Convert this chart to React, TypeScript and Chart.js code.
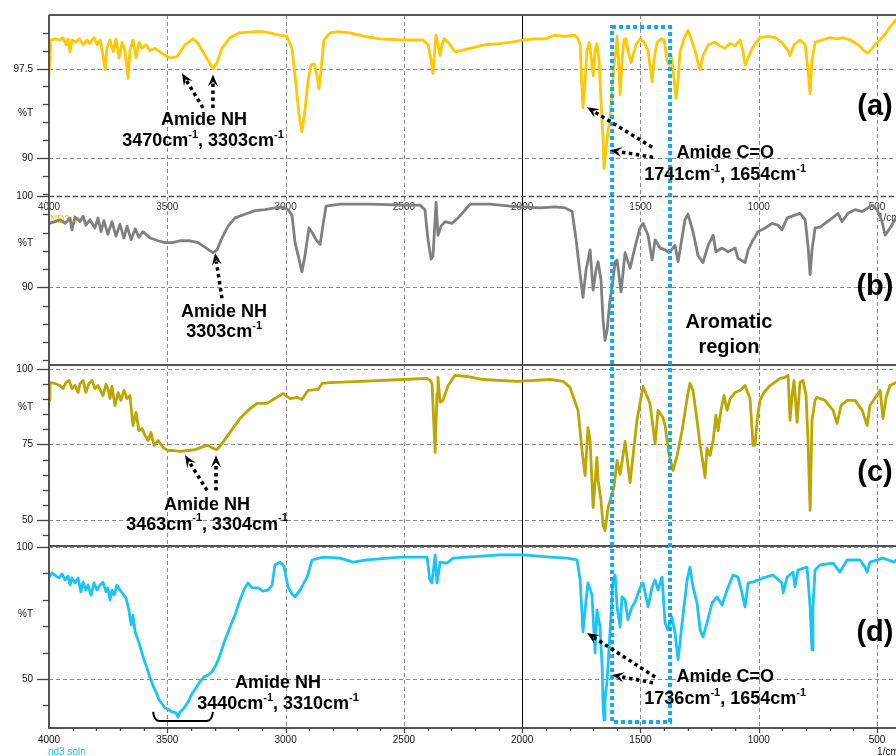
import { useEffect, useRef } from "react";
import { Chart, registerables } from "chart.js";

Chart.register(...registerables);

const FONT = '"Liberation Sans", Arial, Helvetica, sans-serif';

// ---- FTIR spectra: [wavenumber (cm-1), transmittance (%T)] ----
const specA: [number, number][] = [
  [4000, 96.9], [3992, 99.9], [3975, 100.0], [3954, 99.9], [3941, 100.1], [3928, 99.5], [3920, 100.0], [3911, 98.9], [3903, 99.9], [3886, 99.7],
  [3873, 100.0], [3856, 99.5], [3839, 99.9], [3827, 99.6], [3810, 100.1], [3797, 99.5], [3784, 99.9], [3772, 98.6], [3763, 97.4], [3755, 99.2],
  [3742, 99.9], [3729, 98.9], [3717, 100.0], [3704, 98.4], [3691, 99.7], [3679, 99.0], [3666, 96.7], [3658, 99.0], [3645, 99.9], [3632, 98.4],
  [3620, 99.7], [3607, 99.2], [3590, 99.5], [3573, 99.0], [3552, 99.2], [3531, 98.9], [3510, 98.6], [3489, 98.4], [3459, 98.5], [3425, 99.5],
  [3391, 100.0], [3370, 99.6], [3349, 98.9], [3328, 98.2], [3307, 97.5], [3290, 98.0], [3269, 99.2], [3235, 100.1], [3193, 100.5], [3129, 100.6],
  [3100, 100.6], [3066, 100.5], [3024, 100.3], [2994, 100.2], [2973, 99.2], [2956, 96.1], [2943, 93.6], [2931, 92.2], [2918, 94.0], [2905, 96.5],
  [2893, 97.8], [2880, 97.9], [2867, 96.9], [2859, 95.8], [2850, 97.4], [2838, 99.9], [2812, 100.5], [2778, 100.6], [2728, 100.5], [2664, 100.2],
  [2601, 100.0], [2516, 99.9], [2419, 99.9], [2398, 99.5], [2385, 98.2], [2377, 97.1], [2368, 99.5], [2364, 100.3], [2356, 99.5], [2347, 98.6],
  [2339, 99.5], [2330, 100.0], [2313, 99.7], [2284, 98.9], [2220, 99.2], [2157, 99.5], [2094, 99.6], [2051, 99.7], [1996, 99.9], [1946, 100.0],
  [1903, 100.0], [1861, 100.3], [1819, 100.2], [1777, 100.3], [1764, 100.0], [1755, 99.5], [1747, 95.7], [1743, 94.2], [1734, 96.5], [1726, 99.0],
  [1717, 99.7], [1709, 98.6], [1700, 96.9], [1692, 99.0], [1684, 99.6], [1675, 98.2], [1667, 94.8], [1658, 91.5], [1654, 89.1], [1646, 90.6],
  [1637, 92.3], [1629, 93.3], [1620, 95.7], [1612, 97.8], [1603, 99.2], [1599, 100.2], [1591, 97.4], [1586, 95.3], [1578, 98.2], [1570, 99.9],
  [1561, 100.0], [1553, 99.0], [1540, 98.0], [1532, 98.6], [1519, 99.5], [1502, 100.0], [1485, 99.7], [1468, 99.0], [1460, 97.8], [1451, 96.4],
  [1443, 98.2], [1430, 99.7], [1413, 100.0], [1400, 99.9], [1388, 98.2], [1379, 97.8], [1371, 98.6], [1362, 97.4], [1350, 95.0], [1341, 96.5],
  [1333, 98.9], [1316, 100.0], [1299, 100.7], [1286, 100.0], [1269, 99.0], [1257, 98.0], [1248, 97.4], [1236, 98.6], [1214, 99.5], [1185, 99.7],
  [1164, 99.4], [1143, 99.2], [1121, 99.6], [1100, 99.4], [1079, 99.9], [1067, 99.0], [1058, 97.8], [1045, 98.4], [1028, 99.2], [995, 100.1],
  [961, 100.2], [931, 100.1], [902, 99.7], [876, 99.0], [868, 98.6], [851, 99.5], [826, 99.9], [804, 99.5], [792, 97.4], [783, 95.4],
  [775, 98.2], [762, 99.7], [733, 99.9], [699, 100.1], [669, 100.0], [644, 100.1], [614, 99.9], [580, 99.5], [555, 99.0], [538, 98.8],
  [521, 99.2], [504, 99.6], [487, 99.9], [462, 100.5], [445, 101.0], [432, 101.3], [420, 101.6],
];

const specB: [number, number][] = [
  [4000, 97.0], [3975, 97.2], [3954, 97.4], [3932, 97.0], [3911, 97.6], [3903, 96.3], [3890, 97.7], [3869, 97.2], [3856, 97.8], [3844, 96.8],
  [3827, 97.4], [3806, 96.5], [3793, 97.6], [3780, 96.1], [3768, 97.3], [3751, 95.8], [3734, 97.2], [3717, 95.6], [3700, 96.9], [3683, 95.4],
  [3670, 96.7], [3653, 95.2], [3636, 96.4], [3620, 95.5], [3603, 96.1], [3573, 95.4], [3539, 95.1], [3510, 94.9], [3480, 94.9], [3446, 95.1],
  [3404, 95.1], [3370, 94.9], [3341, 94.4], [3319, 94.0], [3307, 93.8], [3290, 94.1], [3269, 95.4], [3243, 96.7], [3214, 97.6], [3172, 98.0],
  [3129, 98.4], [3087, 98.5], [3045, 98.7], [3015, 98.8], [2990, 98.5], [2973, 97.9], [2960, 94.9], [2947, 93.5], [2931, 91.7], [2918, 93.5],
  [2901, 96.5], [2888, 96.0], [2871, 95.2], [2854, 94.7], [2842, 96.8], [2829, 98.9], [2770, 99.1], [2643, 99.1], [2495, 99.0], [2432, 99.0],
  [2411, 98.5], [2398, 95.2], [2385, 93.1], [2377, 93.4], [2364, 99.3], [2356, 95.7], [2343, 96.7], [2326, 97.2], [2297, 97.0], [2271, 97.6],
  [2220, 99.1], [2136, 99.1], [2051, 98.9], [1996, 98.8], [1925, 98.7], [1861, 98.8], [1819, 98.7], [1789, 98.3], [1772, 95.2], [1755, 91.4],
  [1743, 88.9], [1730, 91.9], [1713, 94.1], [1700, 89.7], [1688, 91.9], [1679, 92.8], [1667, 90.8], [1658, 86.4], [1650, 84.2], [1641, 85.3],
  [1629, 88.6], [1620, 90.0], [1607, 92.8], [1599, 93.0], [1582, 89.5], [1565, 93.8], [1544, 92.1], [1523, 94.4], [1502, 96.5], [1489, 97.0],
  [1468, 95.7], [1451, 93.0], [1438, 95.2], [1417, 94.3], [1396, 94.1], [1379, 93.8], [1354, 94.6], [1341, 92.8], [1312, 97.4], [1299, 98.0],
  [1278, 96.1], [1257, 93.5], [1236, 92.7], [1214, 94.6], [1193, 95.7], [1181, 93.9], [1155, 94.3], [1130, 93.9], [1100, 94.3], [1088, 93.2],
  [1058, 92.7], [1045, 94.1], [1028, 95.0], [1003, 96.1], [973, 96.5], [944, 97.0], [918, 96.8], [902, 96.3], [880, 97.6], [847, 97.9],
  [826, 98.1], [804, 97.4], [792, 94.6], [783, 91.4], [775, 94.1], [762, 96.5], [741, 96.6], [699, 97.4], [665, 98.1], [648, 97.2],
  [623, 98.1], [593, 98.5], [563, 98.3], [538, 98.7], [521, 99.0], [500, 98.5], [479, 97.2], [466, 95.7], [445, 96.5], [420, 97.6],
];

const specC: [number, number][] = [
  [4000, 89.6], [3996, 95.5], [3975, 95.2], [3954, 94.5], [3941, 93.5], [3928, 95.5], [3915, 96.2], [3903, 93.5], [3890, 94.5], [3877, 92.2],
  [3869, 95.2], [3856, 96.2], [3844, 92.2], [3831, 95.2], [3818, 96.2], [3806, 93.5], [3793, 94.5], [3772, 91.2], [3759, 94.9], [3751, 93.5],
  [3742, 90.2], [3734, 94.2], [3721, 87.9], [3708, 92.2], [3696, 89.6], [3683, 92.9], [3670, 90.2], [3658, 91.2], [3645, 81.3], [3632, 85.6],
  [3620, 79.6], [3607, 80.3], [3594, 78.0], [3582, 76.3], [3569, 79.0], [3556, 74.7], [3539, 76.3], [3518, 74.0], [3497, 73.0], [3472, 73.0],
  [3446, 72.7], [3412, 73.0], [3383, 73.3], [3349, 74.3], [3328, 74.7], [3307, 73.7], [3290, 73.3], [3269, 75.3], [3235, 79.0], [3193, 83.6],
  [3150, 86.9], [3121, 88.6], [3079, 88.6], [3045, 90.2], [3011, 91.9], [2981, 90.2], [2952, 90.6], [2931, 89.9], [2905, 92.9], [2863, 93.2],
  [2846, 95.2], [2812, 95.5], [2685, 95.9], [2504, 96.5], [2402, 96.9], [2390, 96.2], [2381, 95.2], [2368, 72.4], [2360, 91.9], [2356, 97.2],
  [2347, 88.9], [2335, 89.6], [2313, 94.5], [2284, 97.9], [2233, 97.5], [2165, 96.5], [2022, 95.9], [1882, 96.5], [1827, 95.9], [1798, 93.9],
  [1764, 86.3], [1747, 73.0], [1734, 64.7], [1722, 80.6], [1713, 76.3], [1700, 54.1], [1684, 70.7], [1679, 63.1], [1667, 56.5], [1658, 48.2],
  [1650, 46.5], [1637, 54.1], [1620, 58.8], [1612, 60.8], [1599, 69.7], [1586, 65.1], [1565, 76.0], [1544, 62.4], [1515, 83.0], [1489, 94.2],
  [1460, 88.6], [1438, 75.3], [1426, 86.3], [1405, 83.9], [1396, 81.3], [1379, 71.4], [1362, 66.4], [1345, 71.4], [1324, 79.6], [1299, 92.2],
  [1291, 95.2], [1278, 92.9], [1261, 83.0], [1248, 74.7], [1236, 69.0], [1227, 64.1], [1219, 73.7], [1206, 71.4], [1193, 76.3], [1181, 84.6],
  [1172, 79.6], [1160, 86.3], [1147, 91.2], [1134, 86.3], [1121, 90.2], [1100, 92.2], [1079, 92.9], [1058, 94.5], [1037, 90.2], [1024, 74.7],
  [1016, 74.7], [1007, 83.0], [995, 89.6], [978, 92.2], [952, 94.5], [910, 96.9], [889, 97.2], [876, 97.9], [868, 83.0], [859, 91.2],
  [851, 96.2], [838, 82.3], [826, 95.5], [813, 96.2], [800, 91.2], [792, 76.3], [783, 53.2], [775, 83.0], [762, 89.6], [754, 90.6],
  [720, 89.6], [686, 86.3], [669, 82.0], [652, 87.9], [627, 89.6], [593, 89.6], [563, 86.3], [542, 81.3], [530, 87.9], [504, 90.9],
  [487, 92.9], [475, 83.6], [462, 90.6], [445, 94.5], [428, 95.2], [420, 95.5],
];

const specD: [number, number][] = [
  [4000, 88.6], [3987, 90.2], [3970, 89.0], [3958, 88.3], [3945, 89.8], [3932, 87.5], [3920, 89.0], [3911, 85.6], [3903, 88.3], [3890, 86.4],
  [3877, 88.3], [3865, 83.0], [3856, 86.7], [3844, 83.7], [3835, 85.6], [3822, 81.8], [3810, 86.4], [3797, 83.7], [3784, 85.6], [3772, 86.7],
  [3759, 83.0], [3751, 84.5], [3742, 79.9], [3734, 83.7], [3725, 81.8], [3713, 85.6], [3700, 83.7], [3687, 82.2], [3675, 80.7], [3662, 76.1],
  [3653, 70.5], [3645, 74.2], [3636, 67.8], [3624, 64.8], [3611, 61.0], [3598, 57.2], [3586, 54.2], [3573, 50.4], [3560, 47.4], [3548, 45.1],
  [3535, 42.1], [3522, 40.5], [3510, 39.0], [3497, 38.6], [3480, 37.5], [3463, 37.1], [3455, 35.6], [3446, 37.5], [3429, 39.0], [3412, 41.3],
  [3396, 44.3], [3379, 46.6], [3362, 48.9], [3345, 50.8], [3328, 51.5], [3311, 52.7], [3294, 55.3], [3277, 59.1], [3256, 64.8], [3235, 69.7],
  [3214, 74.2], [3193, 79.9], [3172, 84.5], [3159, 86.4], [3142, 84.5], [3117, 84.5], [3096, 83.3], [3074, 83.7], [3057, 85.6], [3045, 93.2],
  [3024, 94.3], [3007, 92.8], [2990, 84.9], [2973, 82.2], [2960, 81.1], [2939, 83.7], [2909, 88.6], [2888, 95.1], [2842, 96.2], [2770, 95.8],
  [2715, 94.3], [2656, 95.1], [2516, 96.2], [2402, 96.2], [2390, 87.5], [2381, 86.4], [2368, 97.0], [2360, 86.4], [2347, 94.3], [2318, 93.9],
  [2292, 95.8], [2233, 96.2], [2094, 97.0], [1996, 97.0], [1882, 96.2], [1810, 95.8], [1768, 95.1], [1755, 87.5], [1743, 67.8], [1730, 79.9],
  [1722, 86.4], [1705, 81.8], [1692, 59.9], [1684, 76.1], [1671, 69.7], [1662, 54.6], [1658, 40.0], [1654, 34.5], [1650, 42.1], [1641, 49.6],
  [1629, 67.4], [1616, 87.5], [1607, 89.4], [1599, 77.3], [1586, 69.7], [1578, 81.1], [1565, 79.9], [1553, 72.4], [1536, 77.3], [1523, 79.2],
  [1502, 84.5], [1489, 86.4], [1468, 77.3], [1451, 84.9], [1438, 87.5], [1426, 83.7], [1409, 88.6], [1396, 71.2], [1384, 68.6], [1367, 73.5],
  [1354, 67.4], [1341, 57.2], [1324, 71.2], [1303, 87.5], [1291, 92.4], [1278, 84.9], [1261, 78.8], [1248, 68.6], [1236, 65.9], [1219, 71.2],
  [1197, 78.8], [1176, 81.1], [1155, 78.0], [1134, 83.7], [1109, 89.4], [1088, 88.6], [1071, 82.6], [1058, 77.3], [1045, 86.4], [1024, 86.7],
  [982, 88.3], [940, 89.4], [902, 86.4], [897, 82.6], [880, 88.6], [855, 90.5], [847, 84.9], [834, 91.3], [796, 92.4], [783, 77.3],
  [775, 61.0], [771, 77.3], [762, 91.3], [741, 93.2], [686, 93.9], [657, 90.5], [627, 95.1], [572, 95.1], [551, 92.4], [542, 90.5],
  [530, 94.3], [475, 95.8], [428, 94.3], [420, 95.1],
];

const colorA = "#FFC800";
const colorB = "#808080";
const colorC = "#BCA600";
const colorD = "#1CC4F4";
const boxColor = "#14AAEA";

// ---- axes ----
const xMin = 420;
const xMax = 4000;
const xLabels = [4000, 3500, 3000, 2500, 2000, 1500, 1000, 500];
const xDashed = [3500, 3000, 2500, 1500, 1000, 500];
const xSolid = [2000];

const panels = [
  { id: "yA", min: 86.8, max: 102, weight: 181, major: [97.5, 90], minor: [100.5, 99, 96, 94.5, 93, 91.5, 88.5, 87], grid: [97.5, 90], pct: 93.75 },
  { id: "yB", min: 81.5, max: 100, weight: 169, major: [100, 90], minor: [98, 96, 94, 92, 88, 86, 84, 82], grid: [90], pct: 94.85 },
  { id: "yC", min: 41.4, max: 101.3, weight: 181, major: [100, 75, 50], minor: [95, 90, 85, 80, 70, 65, 60, 55, 45], grid: [100, 75, 50], pct: 87.25 },
  { id: "yD", min: 31.4, max: 100.4, weight: 182, major: [100, 50], minor: [90, 80, 70, 60, 40], grid: [100, 50], pct: 74.6 },
];

// ---- annotations: [axis, wavenumber, %T, text, font size] ----
const notes: [string, number, number, string, number][] = [
  ["yA", 3345, 93.15, "Amide NH", 18],
  ["yA", 3349, 91.4, "3470cm^-1, 3303cm^-1", 18],
  ["yA", 1142, 90.4, "Amide C=O", 18],
  ["yA", 1142, 88.55, "1741cm^-1, 1654cm^-1", 18],
  ["yB", 3260, 87.3, "Amide NH", 18],
  ["yB", 3260, 85.1, "3303cm^-1", 18],
  ["yB", 1126, 86.1, "Aromatic", 20],
  ["yB", 1126, 83.45, "region", 20],
  ["yC", 3332, 55.1, "Amide NH", 18],
  ["yC", 3332, 48.5, "3463cm^-1, 3304cm^-1", 18],
  ["yD", 3032, 48.5, "Amide NH", 18],
  ["yD", 3032, 40.5, "3440cm^-1, 3310cm^-1", 18],
  ["yD", 1142, 50.75, "Amide C=O", 18],
  ["yD", 1142, 42.4, "1736cm^-1, 1654cm^-1", 18],
];

// dotted arrows: [axis, from wn, from %T, to wn, to %T]
const arrows: [string, number, number, number, number][] = [
  ["yA", 3349, 94.2, 3438, 97.1],
  ["yA", 3307, 94.2, 3307, 97.0],
  ["yA", 1451, 90.9, 1726, 94.25],
  ["yA", 1447, 90.05, 1629, 90.65],
  ["yB", 3269, 88.8, 3298, 93.75],
  ["yC", 3332, 59.8, 3425, 71.4],
  ["yC", 3294, 59.8, 3294, 71.4],
  ["yD", 1438, 50.75, 1726, 67.4],
  ["yD", 1447, 48.5, 1620, 51.5],
];

const panelTags: [string, number, string][] = [
  ["yA", 94.3, "(a)"],
  ["yB", 90.0, "(b)"],
  ["yC", 65.4, "(c)"],
  ["yD", 67.4, "(d)"],
];
const tagWn = 509;

// bracket under the broad NH band of (d): [wn from, wn to, %T top, %T bottom]
const bracketD = [3560, 3307, 37.5, 34.1];
// aromatic region box: [wn left, wn right, top %T on (a), bottom %T on (d)]
const aromaticBox = [1620, 1375, 101.0, 33.7];

function drawRich(ctx: CanvasRenderingContext2D, text: string, cx: number, cy: number, size: number) {
  const parts = text.split(/(\^-1)/).filter((p) => p.length > 0);
  const base = `bold ${size}px ${FONT}`;
  const small = `bold ${Math.round(size * 0.62)}px ${FONT}`;
  let w = 0;
  for (const p of parts) {
    const sup = p === "^-1";
    ctx.font = sup ? small : base;
    w += ctx.measureText(sup ? "-1" : p).width;
  }
  let x = cx - w / 2;
  ctx.textAlign = "left";
  ctx.textBaseline = "middle";
  ctx.fillStyle = "#000";
  for (const p of parts) {
    const sup = p === "^-1";
    const t = sup ? "-1" : p;
    ctx.font = sup ? small : base;
    ctx.fillText(t, x, sup ? cy - size * 0.36 : cy);
    x += ctx.measureText(t).width;
  }
}

function drawArrow(ctx: CanvasRenderingContext2D, x0: number, y0: number, x1: number, y1: number) {
  const ang = Math.atan2(y1 - y0, x1 - x0);
  const head = 12;
  const half = 5;
  ctx.save();
  ctx.strokeStyle = "#000";
  ctx.fillStyle = "#000";
  ctx.lineWidth = 3.5;
  ctx.setLineDash([3.5, 3.5]);
  ctx.beginPath();
  ctx.moveTo(x0, y0);
  ctx.lineTo(x1 - Math.cos(ang) * head * 0.7, y1 - Math.sin(ang) * head * 0.7);
  ctx.stroke();
  ctx.setLineDash([]);
  ctx.translate(x1, y1);
  ctx.rotate(ang);
  ctx.beginPath();
  ctx.moveTo(0, 0);
  ctx.lineTo(-head, -half);
  ctx.lineTo(-head * 0.6, 0);
  ctx.lineTo(-head, half);
  ctx.closePath();
  ctx.fill();
  ctx.restore();
}

function hLine(ctx: CanvasRenderingContext2D, x0: number, x1: number, y: number) {
  ctx.beginPath();
  ctx.moveTo(x0, y);
  ctx.lineTo(x1, y);
  ctx.stroke();
}
function vLine(ctx: CanvasRenderingContext2D, x: number, y0: number, y1: number) {
  ctx.beginPath();
  ctx.moveTo(x, y0);
  ctx.lineTo(x, y1);
  ctx.stroke();
}

const framePlugin = {
  id: "irFrame",
  beforeDatasetsDraw(chart: any) {
    const { ctx, chartArea: ca, scales } = chart;
    const x = scales.x;
    ctx.save();
    // dashed grid
    ctx.lineWidth = 1;
    ctx.strokeStyle = "#8a8a8a";
    ctx.setLineDash([4, 3]);
    for (const v of xDashed) {
      const px = Math.round(x.getPixelForValue(v)) + 0.5;
      vLine(ctx, px, ca.top, ca.bottom);
    }
    for (const p of panels) {
      const s = scales[p.id];
      for (const v of p.grid) {
        const py = Math.round(s.getPixelForValue(v)) + 0.5;
        hLine(ctx, ca.left, ca.right, py);
      }
    }
    ctx.setLineDash([]);
    ctx.strokeStyle = "#000";
    for (const v of xSolid) {
      const px = Math.round(x.getPixelForValue(v)) + 0.5;
      vLine(ctx, px, ca.top, ca.bottom);
    }
    // wavenumber scale printed along the top of panel (b)
    const yb = scales.yB;
    ctx.font = `10px ${FONT}`;
    ctx.fillStyle = "#333";
    ctx.textAlign = "center";
    ctx.textBaseline = "middle";
    for (const v of xLabels) ctx.fillText(String(v), x.getPixelForValue(v), yb.top + 11);
    ctx.textAlign = "left";
    ctx.fillText("1/cm", x.getPixelForValue(xMin) - 18, yb.top + 22);
    ctx.fillStyle = colorA;
    ctx.fillText("ND3 in", ca.left + 1, yb.top + 24);
    ctx.restore();
  },
  afterDatasetsDraw(chart: any) {
    const { ctx, chartArea: ca, scales } = chart;
    const x = scales.x;
    ctx.save();

    // panel frames
    ctx.strokeStyle = "#555";
    ctx.lineWidth = 2;
    hLine(ctx, ca.left, ca.right, scales.yA.top);
    hLine(ctx, ca.left, ca.right, scales.yC.top);
    hLine(ctx, ca.left, ca.right, scales.yD.top);
    hLine(ctx, ca.left - 1, ca.right, scales.yD.bottom);
    ctx.lineWidth = 1.4;
    ctx.strokeStyle = "#5a5a5a";
    ctx.setLineDash([5, 3]);
    hLine(ctx, ca.left, ca.right, Math.round(scales.yB.top) + 0.5);
    ctx.setLineDash([]);
    ctx.lineWidth = 2;
    ctx.strokeStyle = "#555";
    vLine(ctx, ca.left, ca.top, ca.bottom);

    // y ticks and labels
    ctx.lineWidth = 1.3;
    ctx.strokeStyle = "#444";
    ctx.fillStyle = "#111";
    ctx.font = `10px ${FONT}`;
    ctx.textAlign = "right";
    ctx.textBaseline = "middle";
    for (const p of panels) {
      const s = scales[p.id];
      for (const v of p.major) {
        const py = Math.round(s.getPixelForValue(v)) + 0.5;
        hLine(ctx, ca.left - 12, ca.left, py);
        ctx.fillText(String(v), ca.left - 16, py);
      }
      for (const v of p.minor) {
        const py = Math.round(s.getPixelForValue(v)) + 0.5;
        hLine(ctx, ca.left - 6, ca.left, py);
      }
      ctx.fillText("%T", ca.left - 16, s.getPixelForValue(p.pct));
    }

    // x ticks and labels at the bottom
    const yb = ca.bottom;
    for (let v = 500; v < xMax; v += 100) {
      const px = Math.round(x.getPixelForValue(v)) + 0.5;
      const major = v % 500 === 0;
      vLine(ctx, px, yb, yb + (major ? 5 : 3));
    }
    ctx.textAlign = "center";
    for (const v of xLabels) ctx.fillText(String(v), x.getPixelForValue(v), yb + 12);
    ctx.textAlign = "left";
    ctx.fillText("1/cm", x.getPixelForValue(500), yb + 24);
    ctx.fillStyle = "#2ABDF0";
    ctx.fillText("nd3 soln", ca.left - 1, yb + 24);

    // aromatic region box
    const bx0 = x.getPixelForValue(aromaticBox[0]);
    const bx1 = x.getPixelForValue(aromaticBox[1]);
    const by0 = scales.yA.getPixelForValue(aromaticBox[2]);
    const by1 = scales.yD.getPixelForValue(aromaticBox[3]);
    ctx.strokeStyle = boxColor;
    ctx.lineWidth = 4;
    ctx.setLineDash([4, 3]);
    ctx.strokeRect(bx0, by0, bx1 - bx0, by1 - by0);
    ctx.setLineDash([]);

    // arrows
    for (const [ax, w0, t0, w1, t1] of arrows) {
      const s = scales[ax];
      drawArrow(ctx, x.getPixelForValue(w0), s.getPixelForValue(t0), x.getPixelForValue(w1), s.getPixelForValue(t1));
    }

    // bracket
    const kx0 = x.getPixelForValue(bracketD[0]);
    const kx1 = x.getPixelForValue(bracketD[1]);
    const ky0 = scales.yD.getPixelForValue(bracketD[2]);
    const ky1 = scales.yD.getPixelForValue(bracketD[3]);
    ctx.strokeStyle = "#000";
    ctx.lineWidth = 2;
    ctx.beginPath();
    ctx.moveTo(kx0, ky0);
    ctx.quadraticCurveTo(kx0 + 1, ky1, kx0 + 6, ky1);
    ctx.lineTo(kx1 - 6, ky1);
    ctx.quadraticCurveTo(kx1 - 1, ky1, kx1, ky0);
    ctx.stroke();

    // text labels
    for (const [ax, w, t, text, size] of notes) {
      drawRich(ctx, text, x.getPixelForValue(w), scales[ax].getPixelForValue(t), size);
    }
    ctx.font = `bold 29px ${FONT}`;
    ctx.fillStyle = "#000";
    ctx.textAlign = "center";
    ctx.textBaseline = "middle";
    for (const [ax, t, tag] of panelTags) {
      ctx.fillText(tag, x.getPixelForValue(tagWn), scales[ax].getPixelForValue(t));
    }
    ctx.restore();
  },
};

export default function App() {
  const ref = useRef<HTMLCanvasElement | null>(null);

  useEffect(() => {
    const canvas = ref.current;
    if (!canvas) return;
    const toXY = (s: [number, number][]) => s.map(([wn, t]) => ({ x: wn, y: t }));
    const line = (data: [number, number][], axis: string, color: string) => ({
      data: toXY(data),
      yAxisID: axis,
      borderColor: color,
      backgroundColor: color,
      borderWidth: 2.8,
      pointRadius: 0,
      tension: 0,
      fill: false,
      borderJoinStyle: "round" as const,
      borderCapStyle: "round" as const,
    });
    const yScale = (p: (typeof panels)[number], order: number) => ({
      type: "linear" as const,
      position: "left" as const,
      stack: "ir",
      stackWeight: p.weight,
      weight: order,
      min: p.min,
      max: p.max,
      ticks: { display: false },
      grid: { display: false },
      border: { display: false },
      afterFit: (s: any) => {
        s.width = 49;
      },
    });
    const chart = new Chart(canvas, {
      type: "line",
      data: {
        datasets: [
          line(specA, "yA", colorA),
          line(specB, "yB", colorB),
          line(specC, "yC", colorC),
          line(specD, "yD", colorD),
        ],
      },
      options: {
        animation: false,
        responsive: false,
        devicePixelRatio: 1,
        layout: { padding: { top: 15, left: 0, right: 0, bottom: 0 } },
        plugins: { legend: { display: false }, tooltip: { enabled: false } },
        scales: {
          x: {
            type: "linear",
            reverse: true,
            min: xMin,
            max: xMax,
            position: "bottom",
            ticks: { display: false },
            grid: { display: false },
            border: { display: false },
            afterFit: (s: any) => {
              s.height = 28;
            },
          },
          yA: yScale(panels[0], 4),
          yB: yScale(panels[1], 3),
          yC: yScale(panels[2], 2),
          yD: yScale(panels[3], 1),
        },
      } as any,
      plugins: [framePlugin],
    });
    return () => chart.destroy();
  }, []);

  return (
    <div style={{ position: "fixed", left: 0, top: 0, width: 896, height: 756, background: "#fff" }}>
      <canvas ref={ref} width={896} height={756} style={{ display: "block", width: 896, height: 756 }} />
    </div>
  );
}
